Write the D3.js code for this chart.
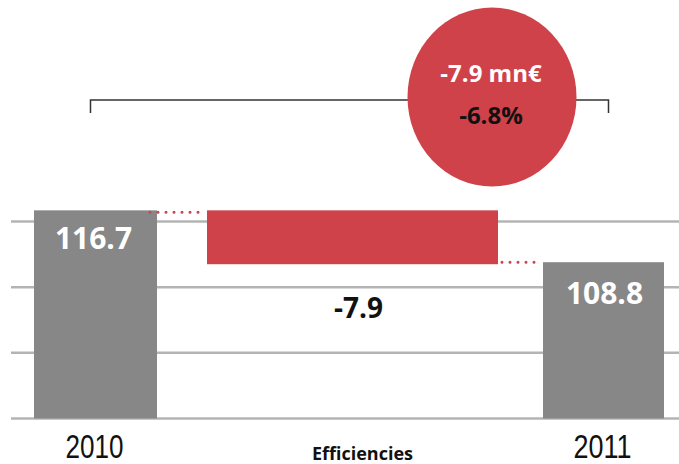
<!DOCTYPE html>
<html><head><meta charset="utf-8">
<script src="https://cdn.jsdelivr.net/npm/d3@7"></script>
<style>body{margin:0;background:#fff}svg{display:block}</style>
</head><body><svg id="c" width="679" height="464"></svg>
<script>
const categories = ["2010", "Efficiencies", "2011"];
const values = [116.7, -7.9, 108.8];
const barLabels = ["116.7", "-7.9", "108.8"];
const gridTicks = [85, 95, 105, 115];
const changeLabel = "-7.9 mn€";
const changePct = "-6.8%";

const svg = d3.select("#c");
const RED = "#d0424a", GRAY = "#878787", GRID = "#b4b4b4";

const x = d3.scalePoint().domain(categories).range([95.5, 603.5]);
const y = d3.scaleLinear().domain([85, 115]).range([418.5, 221.5]);
const widths = {"2010": 123, "Efficiencies": 291, "2011": 121};
const shift = {"2010": 0, "Efficiencies": 3, "2011": 0};
const cx = c => x(c) + shift[c];

let running = 0;
const bars = categories.map((c, i) => {
  let y0, y1, type;
  if (i === 0 || i === categories.length - 1) { y0 = 85; y1 = values[i]; type = "total"; running = values[i]; }
  else { y0 = running; y1 = running + values[i]; running = y1; type = "delta"; }
  return {c, y0, y1, type, label: barLabels[i]};
});

svg.append("g").selectAll("line").data(gridTicks).join("line")
  .attr("x1", 11).attr("x2", 679)
  .attr("y1", d => y(d)).attr("y2", d => y(d))
  .attr("stroke", GRID).attr("stroke-width", 2.5);

svg.append("g").selectAll("rect").data(bars).join("rect")
  .attr("x", d => cx(d.c) - widths[d.c] / 2)
  .attr("width", d => widths[d.c])
  .attr("y", d => y(Math.max(d.y0, d.y1)))
  .attr("height", d => Math.abs(y(d.y0) - y(d.y1)) + (d.type === "delta" ? 2 : 0))
  .attr("fill", d => d.type === "total" ? GRAY : RED);

const conn = svg.append("g").attr("stroke", RED).attr("stroke-width", 3)
  .attr("stroke-linecap", "round").attr("stroke-dasharray", "0,8").attr("fill", "none");
conn.append("line")
  .attr("x1", cx(categories[0]) + widths[categories[0]] / 2 - 7)
  .attr("x2", cx(categories[1]) - widths[categories[1]] / 2 - 4)
  .attr("y1", y(values[0]) + 2).attr("y2", y(values[0]) + 2);
conn.append("line")
  .attr("x1", cx(categories[1]) + widths[categories[1]] / 2 + 4)
  .attr("x2", cx(categories[2]) - widths[categories[2]] / 2 - 6)
  .attr("y1", y(values[2])).attr("y2", y(values[2]));

const lab = svg.append("g").attr("font-family", "'Open Sans', sans-serif").attr("font-weight", "bold").attr("text-anchor", "middle");
lab.append("text").attr("x", cx(categories[0]) - 2).attr("y", 249).attr("font-size", 30).attr("fill", "#fff").text(bars[0].label);
lab.append("text").attr("x", cx(categories[2]) + 1).attr("y", 304).attr("font-size", 30).attr("fill", "#fff").text(bars[2].label);
lab.append("text").attr("x", cx(categories[1]) + 6).attr("y", 318).attr("font-size", 28).attr("fill", "#111").text(bars[1].label);

[0, 2].forEach(i => {
  svg.append("text").attr("x", cx(categories[i]) - 1).attr("y", 458)
    .attr("font-family", "'Liberation Sans', sans-serif").attr("font-size", 33)
    .attr("text-anchor", "middle").attr("fill", "#111")
    .attr("textLength", 58).attr("lengthAdjust", "spacingAndGlyphs")
    .text(categories[i]);
});
svg.append("text").attr("x", cx(categories[1]) + 10).attr("y", 460)
  .attr("font-family", "'Open Sans', sans-serif").attr("font-weight", "bold").attr("font-size", 18)
  .attr("text-anchor", "middle").attr("fill", "#111").text(categories[1]);

const bx0 = cx(categories[0]) - 5, bx1 = cx(categories[2]) + 5;
svg.append("path")
  .attr("d", `M${bx0},113 V100 H${bx1} V113`)
  .attr("fill", "none").attr("stroke", "#333").attr("stroke-width", 1.5);

svg.append("ellipse").attr("cx", 492).attr("cy", 97).attr("rx", 84.5).attr("ry", 89.5).attr("fill", RED);
svg.append("text").attr("x", 491).attr("y", 82).attr("font-family", "'Open Sans', sans-serif").attr("font-weight", "bold")
  .attr("font-size", 24).attr("text-anchor", "middle").attr("fill", "#fff").text(changeLabel);
svg.append("text").attr("x", 491).attr("y", 124).attr("font-family", "'Open Sans', sans-serif").attr("font-weight", "bold")
  .attr("font-size", 24).attr("text-anchor", "middle").attr("fill", "#111").text(changePct);
</script></body></html>
